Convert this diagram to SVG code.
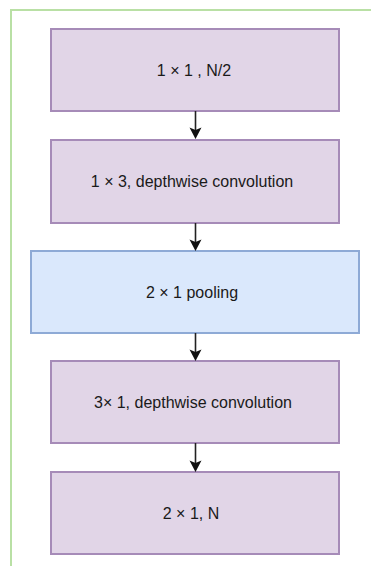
<svg xmlns="http://www.w3.org/2000/svg" width="371" height="566" viewBox="0 0 371 566">
<style>
.frame{fill:none;stroke:#b9e0a5;stroke-width:2}
.p{fill:#e1d5e7;stroke:#a68bb8;stroke-width:2}
.b{fill:#dae8fc;stroke:#8eaad6;stroke-width:2}
.t{font-family:"Liberation Sans",Arial,sans-serif;font-size:16px;fill:#1a1a1a;text-anchor:middle;dominant-baseline:central}
.c{stroke:#222;stroke-width:1.6;fill:none}
.h{fill:#111}
</style>
<rect width="371" height="566" fill="#fff"/>
<path class="frame" d="M11,566 V10 H371"/>
<g id="n1"><rect class="p" x="51" y="29" width="288" height="82"/><text class="t" x="194" y="70">1 × 1 , N/2</text></g>
<g id="n2"><rect class="p" x="51" y="140" width="288" height="83"/><text class="t" x="192" y="181.5">1 × 3, depthwise convolution</text></g>
<g id="n3"><rect class="b" x="31" y="251" width="328" height="82"/><text class="t" x="192" y="292">2 × 1 pooling</text></g>
<g id="n4"><rect class="p" x="51" y="361" width="288" height="82"/><text class="t" x="193" y="402">3× 1, depthwise convolution</text></g>
<g id="n5"><rect class="p" x="51" y="472" width="288" height="82"/><text class="t" x="191" y="513">2 × 1, N</text></g>
<g id="edges">
<line class="c" x1="195.5" y1="111" x2="195.5" y2="130"/>
<path class="h" d="M189.5,127.5 L195.5,139 L201.5,127.5 L195.5,130 Z"/>
<line class="c" x1="195.5" y1="223" x2="195.5" y2="242"/>
<path class="h" d="M189.5,239.5 L195.5,251 L201.5,239.5 L195.5,242 Z"/>
<line class="c" x1="195.5" y1="333" x2="195.5" y2="352"/>
<path class="h" d="M189.5,349.5 L195.5,361 L201.5,349.5 L195.5,352 Z"/>
<line class="c" x1="195.5" y1="443" x2="195.5" y2="463"/>
<path class="h" d="M189.5,460.5 L195.5,472 L201.5,460.5 L195.5,463 Z"/>
</g>
</svg>
